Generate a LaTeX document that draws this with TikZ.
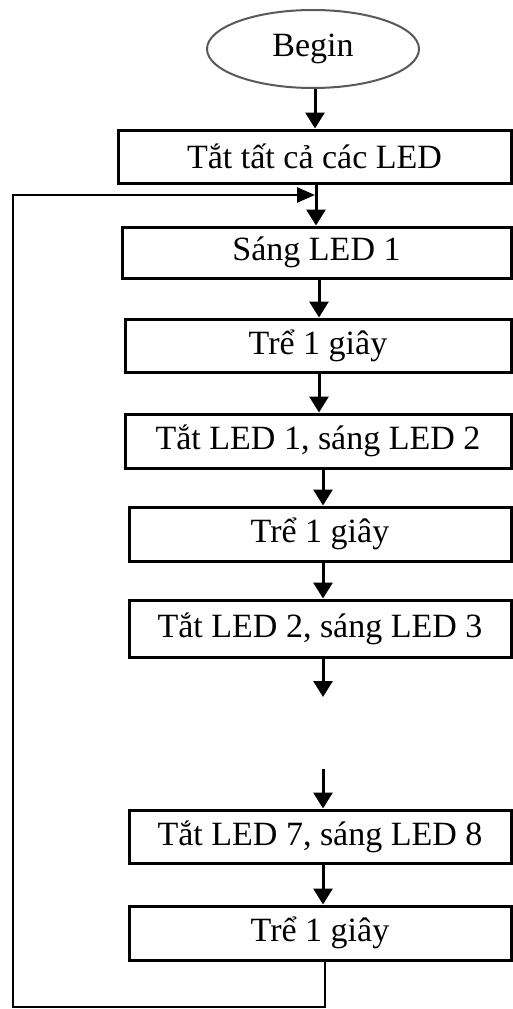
\documentclass[tikz,border=0pt]{standalone}
\usepackage{fontspec}
\setmainfont{Liberation Serif}
\usetikzlibrary{shapes.geometric,arrows.meta,calc}
\begin{document}
\begin{tikzpicture}[x=1pt,y=-1pt,
  stepbox/.style={draw=black,line width=3pt,rectangle,inner sep=0pt,font=\fontsize{34}{38}\selectfont},
  startnode/.style={draw=black!65,line width=2pt,ellipse,inner sep=0pt,minimum width=212pt,minimum height=78pt,font=\fontsize{34}{38}\selectfont},
  arr/.style={line width=3pt,-{Triangle[width=19pt,length=16pt]}},
  looparr/.style={line width=2.5pt,black,-{Triangle[width=15pt,length=18pt]}}]
\useasboundingbox (0,0) rectangle (512,1009);
\node[startnode] (begin) at (313,49) {Begin};
\node[stepbox,minimum width=393pt,minimum height=53pt] (b1) at (314.5,156.5) {Tắt tất cả các LED};
\node[stepbox,minimum width=389pt,minimum height=51pt] (b2) at (316.5,252.5) {Sáng LED 1};
\node[stepbox,minimum width=386pt,minimum height=53pt] (b3) at (318,345.5) {Trể 1 giây};
\node[stepbox,minimum width=386pt,minimum height=54pt] (b4) at (318,441) {Tắt LED 1, sáng LED 2};
\node[stepbox,minimum width=382pt,minimum height=54pt] (b5) at (320,534) {Trể 1 giây};
\node[stepbox,minimum width=382pt,minimum height=57pt] (b6) at (320,628.5) {Tắt LED 2, sáng LED 3};
\node[stepbox,minimum width=382pt,minimum height=53pt] (b7) at (320,836.5) {Tắt LED 7, sáng LED 8};
\node[stepbox,minimum width=382pt,minimum height=54pt] (b8) at (320,933) {Trể 1 giây};
\coordinate (gapend) at (323,697);
\coordinate (gapstart) at (323,769);
\coordinate (loopbot) at (325,1007);
\coordinate (loopbl) at (13,1007);
\coordinate (looptl) at (13,195);
\coordinate (join) at (315,195);
\draw[arr] ([xshift=2pt]begin.south) -- ([xshift=2pt]begin.south |- b1.north);
\draw[arr] ([xshift=1.5pt]b1.south) -- ([xshift=1.5pt]b1.south |- b2.north);
\draw[arr] ([xshift=2.5pt]b2.south) -- ([xshift=2.5pt]b2.south |- b3.north);
\draw[arr] ([xshift=1pt]b3.south) -- ([xshift=1pt]b3.south |- b4.north);
\draw[arr] ([xshift=5pt]b4.south) -- ([xshift=5pt]b4.south |- b5.north);
\draw[arr] ([xshift=3pt]b5.south) -- ([xshift=3pt]b5.south |- b6.north);
\draw[arr] ([xshift=3pt]b6.south) -- (gapend);
\draw[arr] (gapstart) -- (gapstart |- b7.north);
\draw[arr] ([xshift=3pt]b7.south) -- ([xshift=3pt]b7.south |- b8.north);
\draw[looparr] ([xshift=5pt]b8.south) -- (loopbot) -- (loopbl) -- (looptl) -- (join);
\end{tikzpicture}
\end{document}
